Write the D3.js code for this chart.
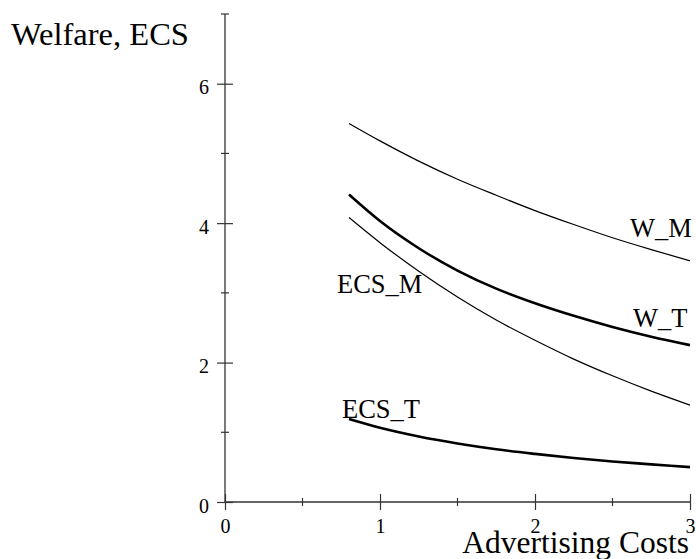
<!DOCTYPE html>
<html>
<head>
<meta charset="utf-8">
<script src="https://cdn.jsdelivr.net/npm/d3@7"></script>
<style>
  body { margin: 0; background: #fff; }
  text { font-family: "Liberation Serif", "Times New Roman", serif; fill: #000; }
</style>
</head>
<body>
<div id="chart"></div>
<script>
var width = 696;
var height = 559;

// values
var costs = [0.8, 1.0, 1.25, 1.5, 1.75, 2.0, 2.25, 2.5, 2.75, 3.0];
var welfareM = [5.43, 5.18, 4.89, 4.63, 4.40, 4.18, 3.98, 3.79, 3.62, 3.46];
var welfareT = [4.41, 4.03, 3.64, 3.32, 3.06, 2.85, 2.67, 2.51, 2.37, 2.25];
var ecsM = [4.08, 3.72, 3.31, 2.94, 2.61, 2.32, 2.05, 1.81, 1.59, 1.39];
var ecsT = [1.19, 1.065, 0.94, 0.84, 0.757, 0.69, 0.63, 0.58, 0.54, 0.50];

var xMajor = [0, 1, 2, 3];
var xMinor = [0.5, 1.5, 2.5];
var yMajor = [0, 2, 4, 6];
var yMinor = [1, 3, 5, 7];

var series = [
  { name: "W_M", values: welfareM, thick: false },
  { name: "W_T", values: welfareT, thick: true },
  { name: "ECS_M", values: ecsM, thick: false },
  { name: "ECS_T", values: ecsT, thick: true }
];

var x = d3.scaleLinear().domain([0, 3]).range([225, 690]);
var y = d3.scaleLinear().domain([0, 7]).range([502, 14]);

var svg = d3.select("#chart")
  .append("svg")
  .attr("width", width)
  .attr("height", height);

var axisColor = "#333";

// axis lines
svg.append("line")
  .attr("x1", x(0)).attr("x2", x(3))
  .attr("y1", y(0)).attr("y2", y(0))
  .style("stroke", axisColor).style("stroke-width", 1.3);
svg.append("line")
  .attr("x1", x(0)).attr("x2", x(0))
  .attr("y1", y(0)).attr("y2", y(7))
  .style("stroke", axisColor).style("stroke-width", 1.3);

// x axis: ticks cross the line
var xAxis = svg.append("g")
  .attr("transform", "translate(0," + y(0) + ")")
  .call(d3.axisBottom(x).tickValues(xMajor).tickFormat(d3.format("d")).tickSize(8).tickPadding(15));
xAxis.select(".domain").remove();
xAxis.selectAll("line").attr("y1", -8).style("stroke", axisColor).style("stroke-width", 1.2);
xAxis.selectAll("text").style("font-size", "20px").attr("dy", "0.4em");

svg.selectAll(".xminor")
  .data(xMinor)
  .enter()
  .append("line")
  .attr("class", "xminor")
  .attr("x1", function (d) { return x(d); })
  .attr("x2", function (d) { return x(d); })
  .attr("y1", y(0) - 4)
  .attr("y2", y(0) + 4)
  .style("stroke", axisColor).style("stroke-width", 1.2);

// y axis
var yAxis = svg.append("g")
  .attr("transform", "translate(" + x(0) + ",0)")
  .call(d3.axisLeft(y).tickValues(yMajor).tickFormat(d3.format("d")).tickSize(8).tickPadding(8));
yAxis.select(".domain").remove();
yAxis.selectAll("line").attr("x1", 8).style("stroke", axisColor).style("stroke-width", 1.2);
yAxis.selectAll("text").style("font-size", "20px").attr("dy", "0.5em");

svg.selectAll(".yminor")
  .data(yMinor)
  .enter()
  .append("line")
  .attr("class", "yminor")
  .attr("x1", x(0) - 4)
  .attr("x2", x(0) + 4)
  .attr("y1", function (d) { return y(d); })
  .attr("y2", function (d) { return y(d); })
  .style("stroke", axisColor).style("stroke-width", 1.2);

// curves
var line = d3.line()
  .x(function (d) { return x(d[0]); })
  .y(function (d) { return y(d[1]); })
  .curve(d3.curveMonotoneX);

svg.selectAll(".curve")
  .data(series)
  .enter()
  .append("path")
  .attr("class", "curve")
  .attr("d", function (s) {
    return line(costs.map(function (c, i) { return [c, s.values[i]]; }));
  })
  .style("fill", "none")
  .style("stroke", "#000")
  .style("stroke-width", function (s) { return s.thick ? 2.6 : 1.2; });

// curve labels
var curveLabels = [
  { text: "W_M", x: 630, y: 237 },
  { text: "W_T", x: 633, y: 327 },
  { text: "ECS_M", x: 337, y: 293 },
  { text: "ECS_T", x: 342, y: 418 }
];
svg.selectAll(".clabel")
  .data(curveLabels)
  .enter()
  .append("text")
  .attr("class", "clabel")
  .attr("x", function (d) { return d.x; })
  .attr("y", function (d) { return d.y; })
  .style("font-size", "26.5px")
  .text(function (d) { return d.text; });

// axis titles
svg.append("text")
  .attr("x", 11)
  .attr("y", 45)
  .style("font-size", "32.5px")
  .text("Welfare, ECS");

svg.append("text")
  .attr("x", 689)
  .attr("y", 553)
  .attr("text-anchor", "end")
  .style("font-size", "31.5px")
  .text("Advertising Costs");
</script>
</body>
</html>
